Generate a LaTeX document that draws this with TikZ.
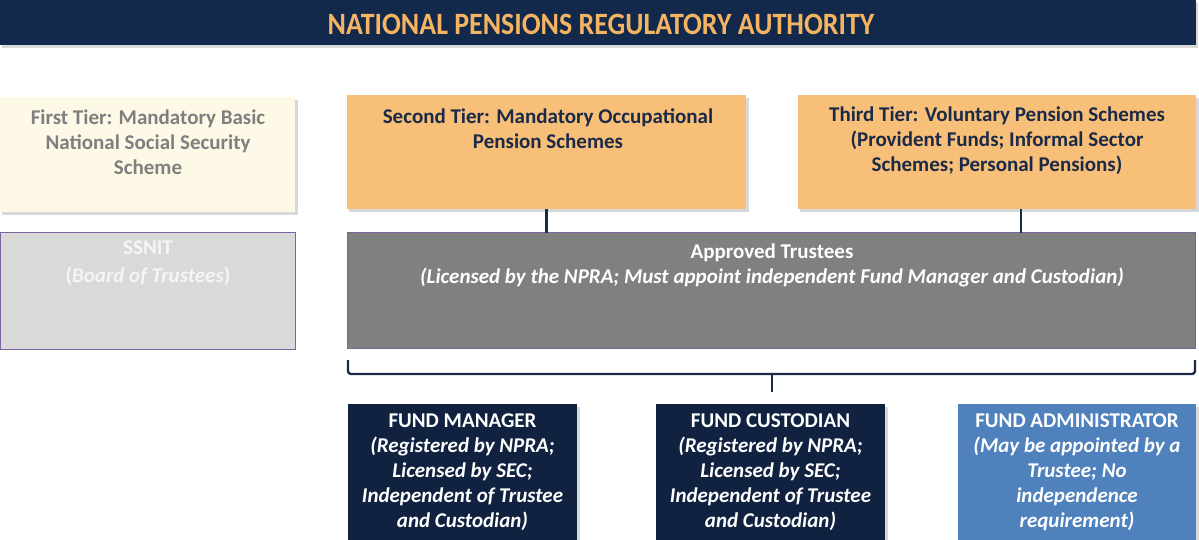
\documentclass[tikz,border=0pt]{standalone}
\usepackage{fontspec}
\setmainfont{Carlito}
\usetikzlibrary{calc}
\definecolor{navy}{HTML}{13294B}
\definecolor{titleorange}{HTML}{F5B461}
\definecolor{cream}{HTML}{FEF9E7}
\definecolor{graytext}{HTML}{7F7F7F}
\definecolor{lightgray}{HTML}{D9D9D9}
\definecolor{purpleborder}{HTML}{7E649E}
\definecolor{tierorange}{HTML}{F8BF78}
\definecolor{darktext}{HTML}{1B2A47}
\definecolor{trustgray}{HTML}{808080}
\definecolor{boxnavy}{HTML}{10223F}
\definecolor{fablue}{HTML}{4F81BD}
\definecolor{shadowgray}{HTML}{BFBFBF}
\tikzset{
  box/.style={rectangle, inner sep=0pt, outer sep=0pt, anchor=north west},
  boxtext/.style={align=center, inner sep=0pt, font=\fontsize{21}{25}\selectfont\bfseries},
  shadowbox/.style={fill=shadowgray, opacity=0.6},
  conn/.style={draw=darktext, line width=2.6pt},
}
\begin{document}
\begin{tikzpicture}[x=1pt,y=-1pt]
\useasboundingbox (0,0) rectangle (1199,539);
\clip (0,0) rectangle (1199,539);
\fill[white] (0,0) rectangle (1199,539);
% shadows
\fill[shadowbox] (2,3) rectangle (1198,48);
\fill[shadowbox] (2,100) rectangle (298,215);
\fill[shadowbox] (349,98) rectangle (749,212);
\fill[shadowbox] (800,98) rectangle (1199,212);
\fill[shadowbox] (350,407) rectangle (580,545);
\fill[shadowbox] (658,407) rectangle (888,545);
\fill[shadowbox] (960,407) rectangle (1199,545);
% title
\node[box, fill=navy, minimum width=1196pt, minimum height=45pt] (title) at (0,0) {};
\node[inner sep=0pt, text=titleorange, font=\fontsize{31}{31}\selectfont\bfseries] (titletext) at (601,24) {\scalebox{0.9}[1]{NATIONAL PENSIONS REGULATORY AUTHORITY}};
% tiers
\node[box, fill=cream, minimum width=295pt, minimum height=115pt] (t1) at (0,97) {};
\node[boxtext, text=graytext] (t1text) at (148,142) {First Tier: Mandatory Basic\\National Social Security\\Scheme};
\node[box, fill=tierorange, minimum width=399pt, minimum height=114pt] (t2) at (347,95) {};
\node[boxtext, text=darktext] (t2text) at (548,128.5) {Second Tier: Mandatory Occupational\\Pension Schemes};
\node[box, fill=tierorange, minimum width=398pt, minimum height=114pt] (t3) at (798,95) {};
\node[boxtext, text=darktext] (t3text) at (997,141) {Third Tier: Voluntary Pension Schemes\\(Provident Funds; Informal Sector\\Schemes; Personal Pensions)};
% trustees row
\node[box, fill=lightgray, draw=purpleborder, line width=1.2pt, minimum width=295pt, minimum height=117pt] (ssnit) at (0.6,232.6) {};
\node[boxtext, text=white!96!black, font=\fontsize{21}{28}\selectfont\bfseries] (ssnittext) at (148,263) {SSNIT\\(\textit{Board of Trustees})};
\node[box, fill=trustgray, draw=purpleborder, line width=1.2pt, minimum width=848pt, minimum height=116pt] (trust) at (347.6,232.6) {};
\node[boxtext, text=white] (trusttext) at (772,265) {Approved Trustees\\\textit{(Licensed by the NPRA; Must appoint independent Fund Manager and Custodian)}};
% connectors
\coordinate (c3) at ($(t3.south)+(24,0)$);
\draw[conn] (t2.south) -- (t2.south |- trust.north);
\draw[conn] (c3) -- (c3 |- trust.north);
% brace
\coordinate (bl) at (348,360);
\coordinate (br) at (1195,360);
\coordinate (bm) at (772,374);
\coordinate (btip) at (772,392);
\draw[conn, line width=2.4pt, rounded corners=3pt] (bl) -- (bl |- bm) -- (br |- bm) -- (br);
\draw[conn, line width=2.4pt] (bm) -- (btip);
% bottom boxes
\node[box, fill=boxnavy, minimum width=229pt, minimum height=140pt] (fm) at (348,404) {};
\node[boxtext, text=white] (fmtext) at (462.5,472) {FUND MANAGER\\\textit{(Registered by NPRA;}\\\textit{Licensed by SEC;}\\\textit{Independent of Trustee}\\\textit{and Custodian)}};
\node[box, fill=boxnavy, minimum width=229pt, minimum height=140pt] (fc) at (656,404) {};
\node[boxtext, text=white] (fctext) at (770.5,472) {FUND CUSTODIAN\\\textit{(Registered by NPRA;}\\\textit{Licensed by SEC;}\\\textit{Independent of Trustee}\\\textit{and Custodian)}};
\node[box, fill=fablue, minimum width=238pt, minimum height=140pt] (fa) at (958,404) {};
\node[boxtext, text=white] (fatext) at (1077,472) {FUND ADMINISTRATOR\\\textit{(May be appointed by a}\\\textit{Trustee; No}\\\textit{independence}\\\textit{requirement)}};
\end{tikzpicture}
\end{document}
